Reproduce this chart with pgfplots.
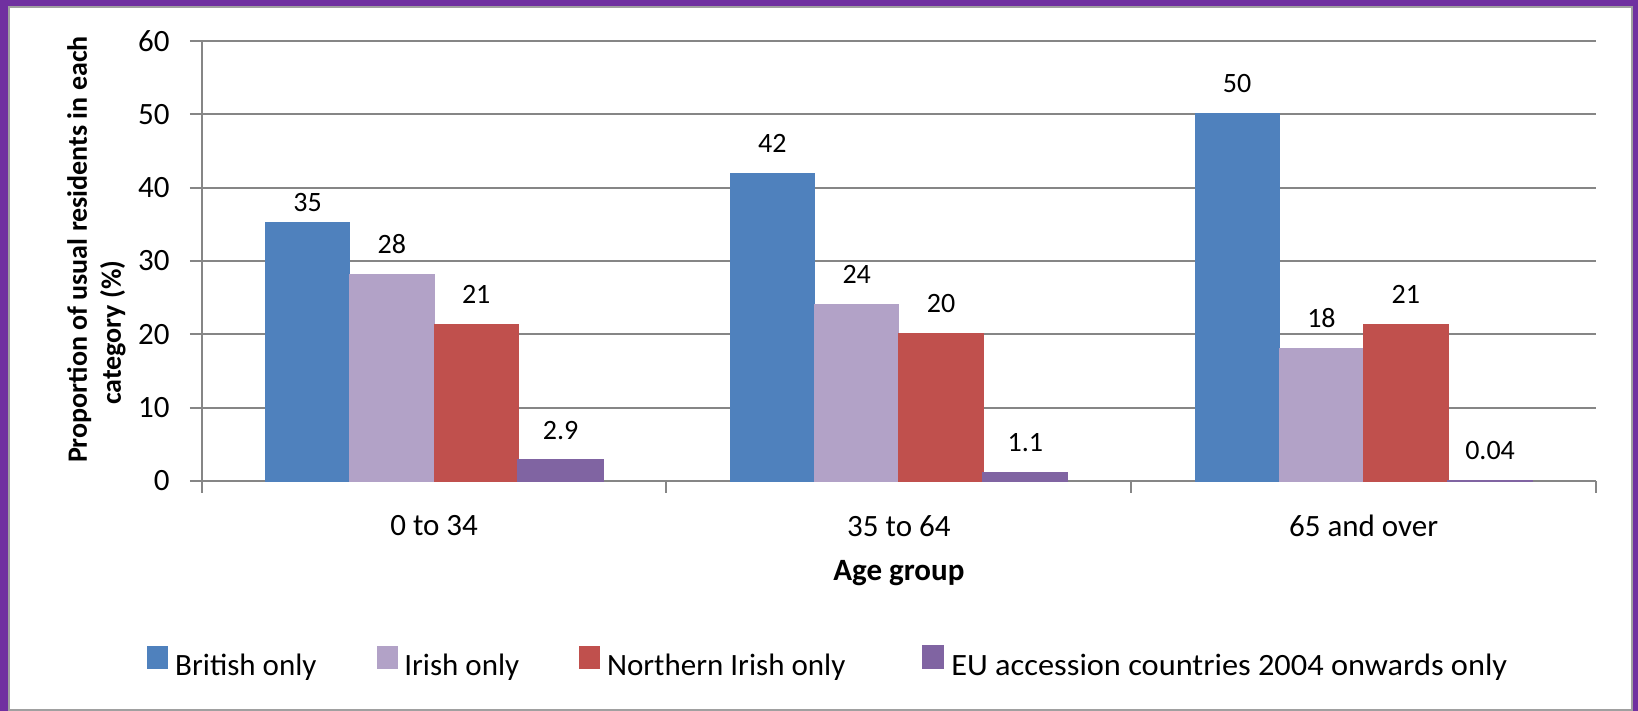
\documentclass[border=0pt]{standalone}
\usepackage{pgfplots}
\pgfplotsset{compat=1.18}
\usepackage{pgfplotstable}
\usepackage{graphicx}
\usepackage{fontspec}
\setmainfont{Carlito}
\definecolor{framepurple}{HTML}{7030A0}
\definecolor{innergrey}{HTML}{A0A0A0}
\definecolor{gridgrey}{HTML}{868686}
\definecolor{cBlue}{HTML}{4F81BD}
\definecolor{cLav}{HTML}{B2A2C7}
\definecolor{cRed}{HTML}{C0504D}
\definecolor{cPur}{HTML}{8064A2}

\pgfplotstableread{
x y lab off
0 35.2 35 10
1 41.9 42 15
2 50.1 50 15
}\tabBritish
\pgfplotstableread{
x y lab off
0 28.2 28 15
1 24.1 24 15
2 18.1 18 15
}\tabIrish
\pgfplotstableread{
x y lab off
0 21.3 21 15
1 20.1 20 15
2 21.4 21 15
}\tabNI
\pgfplotstableread{
x y lab off
0 2.8 2.9 15
1 1.1 1.1 15
2 0.04 0.04 15
}\tabEU

\begin{document}
\begin{tikzpicture}[font=\fontsize{15.5}{19}\selectfont]
\fill[framepurple] (0,0) rectangle (819pt,-355.5pt);
\filldraw[fill=white, draw=innergrey, line width=0.75pt] (4.5pt,-3.5pt) rectangle (815.9pt,-355pt);
\begin{axis}[
  at={(100.85pt,-240.5pt)}, anchor=south west,
  scale only axis, width=697.15pt, height=220pt,
  xmin=-0.5, xmax=2.5, ymin=0, ymax=60,
  ytick={0,10,...,60},
  xtick={0,1,2}, xticklabels={0 to 34, 35 to 64, 65 and over},
  minor xtick={-0.5,0.5,1.5,2.5},
  major x tick style={draw=none},
  tick align=outside,
  major tick length=5.85pt, minor tick length=5.85pt,
  axis x line*=bottom, axis y line*=left,
  axis line style={gridgrey, line width=1pt, -},
  every tick/.append style={gridgrey, line width=1pt},
  every minor tick/.append style={gridgrey, line width=1pt},
  ymajorgrids, grid style={gridgrey, line width=0.9pt},
  /pgf/number format/assume math mode=true,
  ticklabel style={font=\fontsize{15.5}{19}\selectfont},
  yticklabel style={anchor=east, inner sep=0pt, xshift=-10pt},
  xticklabel style={anchor=north, inner sep=0pt, yshift=-11.15pt},
  xlabel={Age group},
  xlabel style={at={(axis description cs:0.5,-0.21)}, anchor=center, font=\fontsize{15.5}{19}\selectfont\bfseries},
  ylabel={Proportion of usual residents in each\\\hspace*{29pt}category (\%)},
  ylabel style={at={(axis description cs:-0.0755,0.526)}, anchor=center, align=left, font=\fontsize{14}{17}\selectfont\bfseries},
  ybar, bar width=42.15pt,
  nodes near coords,
  point meta=explicit symbolic,
  visualization depends on={\thisrow{off} \as \myoff},
  every node near coord/.append style={font=\fontsize{14}{17}\selectfont, anchor=center, yshift=\myoff, text=black},
  legend columns=4,
  legend cell align=left,
  legend style={at={(-0.0392,-0.4107)}, anchor=west, draw=none, fill=none, inner sep=0pt,
    font=\fontsize{15.5}{19}\selectfont,
    nodes={inner sep=0pt},
    /tikz/every even column/.append style={column sep=30pt},
    /tikz/every odd column/.append style={column sep=3.5pt}},
  legend image code/.code={\fill[#1] (0pt,-1pt) rectangle (10pt,10pt);},
]
\addplot[fill=cBlue, draw=cBlue, line width=0.4pt, bar shift=-63.225pt] table[x=x,y=y,meta=lab]{\tabBritish};
\addlegendentry{British only}
\addplot[fill=cLav, draw=cLav, line width=0.4pt, bar shift=-21.075pt] table[x=x,y=y,meta=lab]{\tabIrish};
\addlegendentry{Irish only}
\addplot[fill=cRed, draw=cRed, line width=0.4pt, bar shift=21.075pt] table[x=x,y=y,meta=lab]{\tabNI};
\addlegendentry{Northern Irish only\rule{8.5pt}{0pt}}
\addplot[fill=cPur, draw=cPur, line width=1pt, bar shift=63.225pt] table[x=x,y=y,meta=lab]{\tabEU};
\addlegendentry{\scalebox{1.044}[1]{EU accession countries 2004 onwards only}}
\end{axis}
\pgfresetboundingbox
\path[use as bounding box] (0,0) rectangle (819pt,-355.5pt);
\end{tikzpicture}
\end{document}
